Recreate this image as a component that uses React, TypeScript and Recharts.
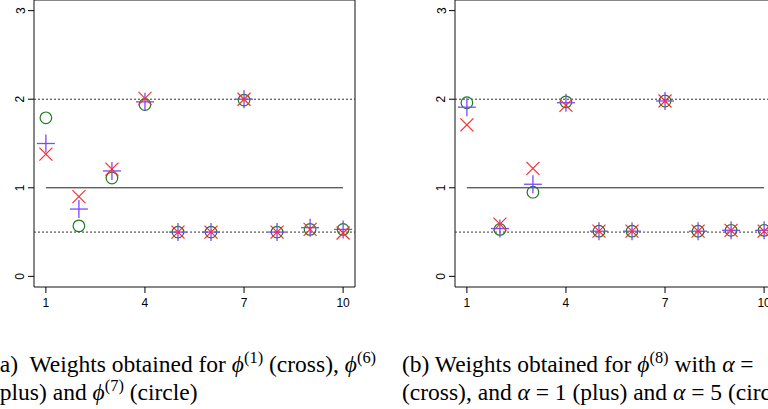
import React from 'react';
import {
  ScatterChart,
  Scatter,
  XAxis,
  YAxis,
  ReferenceLine,
  ReferenceArea,
} from 'recharts';

// component index on the x axis
const positions = [1, 2, 3, 4, 5, 6, 7, 8, 9, 10];

// panel (a): phi(1) cross, phi(6) plus, phi(7) circle
const crossA = [1.38, 0.9, 1.21, 2.01, 0.5, 0.5, 2.0, 0.5, 0.53, 0.49];
const plusA = [1.5, 0.76, 1.19, 1.97, 0.5, 0.5, 2.0, 0.5, 0.55, 0.53];
const circleA = [1.79, 0.57, 1.11, 1.94, 0.5, 0.5, 1.99, 0.5, 0.53, 0.53];

// panel (b): phi(8), alpha small (cross), alpha = 1 (plus), alpha = 5 (circle)
const crossB = [1.71, 0.59, 1.22, 1.93, 0.51, 0.51, 1.98, 0.51, 0.52, 0.51];
const plusB = [1.91, 0.54, 1.04, 1.96, 0.51, 0.51, 1.98, 0.51, 0.52, 0.52];
const circleB = [1.96, 0.53, 0.95, 1.97, 0.51, 0.51, 1.98, 0.51, 0.52, 0.52];

const xTicks = [1, 4, 7, 10];
const yTicks = [0, 1, 2, 3];
const dottedLevels = [2, 0.5];
const solidLevel = 1;
const xDomain: [number, number] = [0.64, 10.36];
const yDomain: [number, number] = [-0.12, 3.12];

const RED = '#ff2b2b';
const PURPLE = '#7f45ff';
const GREEN = '#1f7a1f';

const toPoints = (vals: number[]) => positions.map((x, i) => ({ x, y: vals[i] }));

const CrossShape = (p: any) => {
  const { cx, cy } = p;
  const s = 6.5;
  return (
    <g stroke={RED} strokeWidth={1.2}>
      <line x1={cx - s} y1={cy - s} x2={cx + s} y2={cy + s} />
      <line x1={cx - s} y1={cy + s} x2={cx + s} y2={cy - s} />
    </g>
  );
};

const PlusShape = (p: any) => {
  const { cx, cy } = p;
  const s = 9;
  return (
    <g stroke={PURPLE} strokeWidth={1.3}>
      <line x1={cx - s} y1={cy} x2={cx + s} y2={cy} />
      <line x1={cx} y1={cy - s} x2={cx} y2={cy + s} />
    </g>
  );
};

const CircleShape = (p: any) => {
  const { cx, cy } = p;
  return <circle cx={cx} cy={cy} r={5.8} fill="none" stroke={GREEN} strokeWidth={1.2} />;
};

const YTick = (p: any) => {
  const { x, y, payload } = p;
  const tx = x - 1.5;
  return (
    <text
      x={tx}
      y={y}
      transform={`rotate(-90 ${tx} ${y})`}
      textAnchor="middle"
      fontSize={12}
      fontFamily="Liberation Sans, Arial, sans-serif"
      fill="#000"
    >
      {payload.value}
    </text>
  );
};

function Panel({ cross, plus, circle }: { cross: number[]; plus: number[]; circle: number[] }) {
  return (
    <ScatterChart width={380} height={320} margin={{ top: 0, right: 25, left: 0, bottom: 0 }}>
      <XAxis
        type="number"
        dataKey="x"
        domain={xDomain}
        ticks={xTicks}
        allowDataOverflow
        axisLine={false}
        tickLine={{ stroke: '#000' }}
        tickSize={6}
        tickMargin={5}
        height={33}
        tick={{ fontSize: 12, fill: '#000', fontFamily: 'Liberation Sans, Arial, sans-serif' }}
      />
      <YAxis
        type="number"
        dataKey="y"
        domain={yDomain}
        ticks={yTicks}
        allowDataOverflow
        axisLine={false}
        tickLine={{ stroke: '#000' }}
        tickSize={6}
        width={34}
        tick={<YTick />}
      />
      {dottedLevels.map((lv) => (
        <ReferenceLine key={lv} y={lv} stroke="#333" strokeDasharray="2 2" ifOverflow="visible" />
      ))}
      <ReferenceLine
        segment={[
          { x: positions[0], y: solidLevel },
          { x: positions[positions.length - 1], y: solidLevel },
        ]}
        stroke="#222"
        strokeWidth={1}
      />
      <Scatter data={toPoints(circle)} shape={<CircleShape />} isAnimationActive={false} />
      <Scatter data={toPoints(plus)} shape={<PlusShape />} isAnimationActive={false} />
      <Scatter data={toPoints(cross)} shape={<CrossShape />} isAnimationActive={false} />
      <ReferenceArea
        x1={xDomain[0]}
        x2={xDomain[1]}
        y1={yDomain[0]}
        y2={yDomain[1]}
        fill="none"
        fillOpacity={0}
        stroke="#111"
        strokeWidth={1}
        ifOverflow="visible"
      />
    </ScatterChart>
  );
}

const phi = (n: number) => (
  <>
    <i>ϕ</i>
    <sup style={{ fontSize: '0.7em', verticalAlign: '0.55em', lineHeight: 0 }}>({n})</sup>
  </>
);

const captionStyle: React.CSSProperties = {
  position: 'absolute',
  fontFamily: '"Liberation Serif", "Times New Roman", serif',
  fontSize: 23.5,
  lineHeight: '28px',
  color: '#000',
  whiteSpace: 'nowrap',
};

export default function App() {
  return (
    <div
      style={{
        position: 'absolute',
        left: 0,
        top: 0,
        width: 768,
        height: 409,
        overflow: 'hidden',
        background: '#fff',
      }}
    >
      <div style={{ position: 'absolute', left: 0, top: 0 }}>
        <Panel cross={crossA} plus={plusA} circle={circleA} />
      </div>
      <div style={{ position: 'absolute', left: 421, top: 0 }}>
        <Panel cross={crossB} plus={plusB} circle={circleB} />
      </div>
      <div style={{ ...captionStyle, left: -8, top: 350 }}>
        <div>
          (a)&nbsp; Weights obtained for {phi(1)} (cross), {phi(6)}
        </div>
        <div>(plus) and {phi(7)} (circle)</div>
      </div>
      <div style={{ ...captionStyle, left: 402, top: 350 }}>
        <div>
          (b) Weights obtained for {phi(8)} with <i>α</i> =
        </div>
        <div>
          (cross), and <i>α</i> = 1 (plus) and <i>α</i> = 5 (circle)
        </div>
      </div>
    </div>
  );
}
